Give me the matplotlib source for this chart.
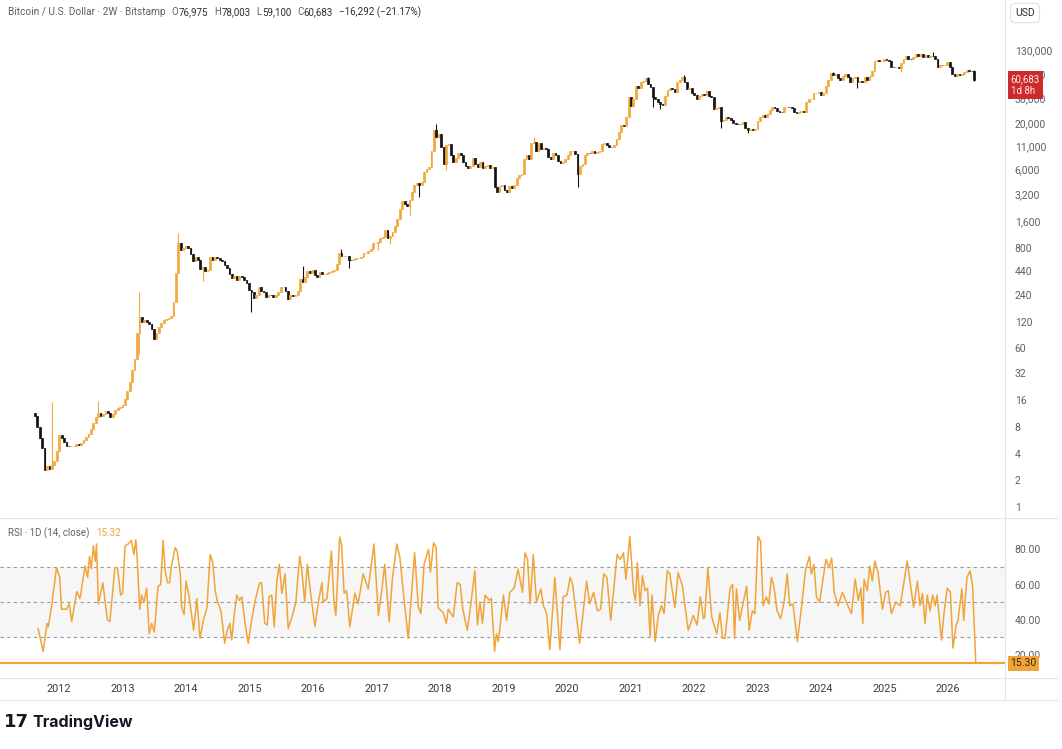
import numpy as np
import pandas as pd
import matplotlib
matplotlib.use("Agg")
import matplotlib.pyplot as plt
from matplotlib.lines import Line2D
from matplotlib.ticker import NullLocator

plt.rcParams['font.family'] = ['Roboto', 'DejaVu Sans']

# --- 2W closes (Bitstamp BTC/USD), one list per year ---
first_open = 11.5
closes_2011 = [10.6, 8.0, 5.9, 4.6, 2.6, 2.9, 2.7, 3.0, 3.3, 4.3]
closes_2012 = [6.4, 5.9, 5.4, 4.9, 4.8, 4.8, 4.9, 5.1, 5.0, 5.2, 5.7, 6.2, 6.7,
               7.6, 8.9, 10.3, 11.3, 10.6, 11.1, 12.0, 11.3, 10.3, 11.2, 12.3, 13.0, 13.4]
closes_2013 = [14.0, 16.5, 20, 25, 34, 46, 90, 135, 118, 125, 118, 112, 100,
               76, 90, 105, 115, 124, 128, 131, 137, 200, 420, 900, 760, 800]
closes_2014 = [850, 800, 690, 570, 630, 580, 460, 490, 440, 450, 630, 590, 640,
               620, 590, 570, 510, 475, 410, 370, 385, 350, 390, 380, 350, 320]
closes_2015 = [270, 255, 220, 240, 290, 265, 255, 225, 240, 235, 225, 235, 255,
               290, 290, 265, 215, 240, 230, 240, 265, 360, 330, 375, 445, 420]
closes_2016 = [450, 395, 375, 435, 410, 410, 420, 430, 445, 455, 530, 700, 650,
               650, 655, 590, 585, 605, 610, 610, 640, 700, 705, 730, 780, 900]
closes_2017 = [900, 920, 1020, 1050, 1270, 1040, 1100, 1190, 1400, 1700, 2200, 2650, 2450,
               2350, 2750, 3400, 4050, 4300, 4000, 4400, 5700, 6150, 6500, 9600, 16700, 13800]
closes_2018 = [15000, 10800, 7000, 11200, 11500, 8700, 7400, 8100, 9200, 8700, 7400, 6600, 6200,
               6600, 8200, 6900, 6500, 7300, 6300, 6600, 6700, 6300, 6350, 3800, 3400, 3900]
closes_2019 = [4000, 3550, 3400, 3950, 3750, 4000, 4900, 5200, 5300, 7900, 8700, 8000, 11800,
               12300, 9800, 11900, 10100, 10600, 10200, 8300, 8000, 9200, 8800, 7500, 7200, 7300]
closes_2020 = [8000, 8700, 9600, 9600, 8900, 5300, 6600, 6900, 8800, 9300, 9200, 9800, 9300,
               9400, 9600, 11700, 11800, 11400, 10900, 10800, 11400, 13300, 15700, 19200, 18500, 23500]
closes_2021 = [39000, 31000, 37500, 52000, 49000, 58000, 59000, 63000, 54000, 50000, 39000, 37000, 34000,
               33000, 32000, 40000, 47000, 49000, 48000, 44000, 57000, 61000, 65000, 57000, 48500, 49000]
closes_2022 = [43000, 40700, 37000, 40500, 42500, 41000, 45500, 40000, 39500, 29000, 29200, 30000, 21000,
               21600, 23200, 22600, 21400, 20000, 19700, 19500, 19400, 20300, 17600, 16600, 17200, 16800]
closes_2023 = [16900, 21000, 23600, 24500, 23500, 25000, 28000, 30400, 29300, 26900, 26500, 26400, 30000,
               30300, 29900, 29200, 26600, 25900, 26600, 27000, 26800, 34200, 36700, 37300, 43300, 43800]
closes_2024 = [44200, 41300, 43000, 51800, 61200, 73000, 69500, 70000, 64500, 61200, 67900, 71000, 65000,
               57000, 64000, 65000, 57500, 59400, 58000, 65200, 60300, 67800, 75900, 98000, 101000, 97500]
closes_2025 = [98000, 104000, 102000, 97500, 84000, 83500, 84300, 83400, 94700, 103000, 111000, 104000, 103000,
               108000, 118000, 113000, 117000, 108000, 116000, 109000, 113000, 111000, 103000, 85000, 89000, 88000]
closes_2026 = [88000, 95000, 84000, 70000, 67000, 70000, 68000, 71000, 75000, 79000, 77000, 76975, 60683]

# long wicks that stand out on the chart (date, high, low)
wick_dates = ["2011-11-21", "2012-08-13", "2013-04-08", "2013-04-15", "2013-11-30", "2014-04-10",
              "2015-01-14", "2015-11-04", "2016-06-16", "2016-08-02", "2017-01-11", "2017-03-24",
              "2017-07-16", "2017-09-15", "2017-12-17", "2018-02-06", "2019-06-26", "2020-03-13",
              "2021-04-14", "2021-05-19", "2021-06-22", "2021-11-10", "2022-06-18", "2022-11-09",
              "2024-03-14", "2024-08-05", "2025-04-07", "2025-10-06", "2026-06-08"]
wick_highs = [15.0, 15.6, 257, np.nan, 1160, np.nan,
              np.nan, 500, 780, np.nan, np.nan, np.nan,
              np.nan, np.nan, 19700, np.nan, 13800, np.nan,
              64900, np.nan, np.nan, 69000, np.nan, np.nan,
              73800, np.nan, np.nan, 126000, 78003]
wick_lows = [np.nan, np.nan, np.nan, 52, np.nan, 340,
             152, np.nan, np.nan, 480, 750, 890,
             1850, 2970, np.nan, 5900, np.nan, 3850,
             np.nan, 30000, 28800, np.nan, 17600, 15500,
             np.nan, 49000, 74500, np.nan, 59100]

# RSI 1D(14) sampled on the 2W bars: (decimal year, value) turning points
rsi_2011_2016 = [
    (2011.67, 35), (2011.75, 22), (2011.81, 38), (2011.83, 36), (2011.88, 47), (2011.96, 69.6),
    (2012.01, 64), (2012.04, 46), (2012.12, 46), (2012.16, 49), (2012.20, 39), (2012.28, 56),
    (2012.33, 52), (2012.41, 70.5), (2012.45, 64), (2012.48, 76), (2012.51, 69), (2012.54, 82),
    (2012.57, 73), (2012.59, 83), (2012.62, 49), (2012.69, 61), (2012.76, 40), (2012.80, 39),
    (2012.88, 69.6), (2012.92, 69.6), (2012.97, 54), (2013.00, 55), (2013.04, 82), (2013.09, 83),
    (2013.14, 85), (2013.18, 77), (2013.21, 85.5), (2013.23, 75), (2013.27, 46), (2013.30, 54),
    (2013.34, 50), (2013.38, 58), (2013.42, 32), (2013.46, 38), (2013.50, 33), (2013.56, 59),
    (2013.60, 60), (2013.64, 85), (2013.67, 68), (2013.71, 61), (2013.74, 61), (2013.77, 70.5),
    (2013.83, 81), (2013.86, 79), (2013.91, 66), (2013.93, 47), (2013.97, 43), (2014.00, 62),
    (2014.05, 53), (2014.12, 34), (2014.17, 52), (2014.22, 29.5), (2014.27, 39), (2014.33, 47),
    (2014.38, 77), (2014.42, 73), (2014.46, 56.5), (2014.49, 51), (2014.55, 45), (2014.61, 26.6),
    (2014.65, 34), (2014.69, 38), (2014.72, 28.5), (2014.76, 43), (2014.80, 54), (2014.84, 51),
    (2014.88, 53), (2014.93, 38), (2014.98, 26.6), (2015.03, 39), (2015.09, 51), (2015.16, 61),
    (2015.19, 61), (2015.24, 38), (2015.28, 37), (2015.31, 53), (2015.35, 54), (2015.39, 36),
    (2015.43, 62), (2015.47, 71.5), (2015.51, 55), (2015.56, 66), (2015.61, 35), (2015.68, 43),
    (2015.73, 50), (2015.79, 76), (2015.82, 69.6), (2015.87, 50), (2015.91, 71.5), (2015.96, 56),
    (2016.03, 36), (2016.08, 49), (2016.14, 61), (2016.16, 50), (2016.22, 52), (2016.29, 79),
    (2016.33, 50), (2016.36, 42.5), (2016.42, 87), (2016.45, 82.7), (2016.49, 55), (2016.53, 56.5),
    (2016.58, 36)]
rsi_2016_2021 = [
    (2016.66, 55), (2016.71, 49), (2016.79, 66), (2016.87, 57.5), (2016.96, 83), (2017.03, 42.5),
    (2017.08, 55.6), (2017.13, 71.5), (2017.20, 39), (2017.25, 63), (2017.32, 83), (2017.37, 75),
    (2017.43, 53), (2017.50, 29.5), (2017.60, 78), (2017.66, 47), (2017.70, 43.5), (2017.75, 71.5),
    (2017.82, 80), (2017.85, 67), (2017.90, 83.7), (2017.94, 81), (2017.97, 47), (2018.05, 44),
    (2018.10, 38), (2018.13, 46), (2018.21, 41.6), (2018.27, 61), (2018.32, 60), (2018.36, 46),
    (2018.43, 34), (2018.48, 47), (2018.55, 67.8), (2018.59, 37), (2018.63, 50), (2018.67, 38),
    (2018.71, 54), (2018.78, 51), (2018.81, 52), (2018.86, 22), (2018.89, 32), (2018.92, 27.6),
    (2019.00, 54), (2019.05, 39.7), (2019.10, 55.6), (2019.17, 58), (2019.23, 68.7), (2019.30, 55.6),
    (2019.34, 78), (2019.38, 74.3), (2019.42, 49), (2019.47, 77), (2019.52, 50), (2019.59, 57.5),
    (2019.63, 48), (2019.68, 43.5), (2019.73, 23), (2019.81, 64), (2019.89, 23), (2019.94, 53),
    (2020.00, 54), (2020.05, 64), (2020.09, 60), (2020.20, 26.6), (2020.31, 62), (2020.36, 49),
    (2020.42, 55.6), (2020.48, 45), (2020.53, 46), (2020.58, 66), (2020.63, 64), (2020.69, 39.7),
    (2020.79, 77), (2020.84, 74.3), (2020.89, 78), (2020.93, 63), (2020.99, 87.4), (2021.05, 55.6),
    (2021.08, 51), (2021.11, 72.4), (2021.15, 48), (2021.19, 65), (2021.23, 56.5), (2021.27, 58),
    (2021.31, 30.4), (2021.34, 54), (2021.39, 27.6), (2021.44, 42.5), (2021.49, 48), (2021.53, 43.5),
    (2021.58, 67.8)]
rsi_2021_2026 = [
    (2021.62, 66), (2021.70, 47), (2021.75, 66.8), (2021.82, 59), (2021.91, 34), (2021.99, 42.5),
    (2022.05, 37), (2022.10, 53), (2022.15, 40.6), (2022.17, 41.6), (2022.22, 69.6), (2022.28, 41.6),
    (2022.36, 32), (2022.41, 44), (2022.45, 29.5), (2022.49, 29.5), (2022.57, 58), (2022.61, 60),
    (2022.64, 29.5), (2022.67, 57.5), (2022.72, 39.7), (2022.83, 59), (2022.87, 34), (2022.92, 45),
    (2022.96, 43.5), (2023.01, 87.4), (2023.05, 84.6), (2023.09, 48), (2023.14, 53), (2023.18, 49),
    (2023.22, 64), (2023.26, 59), (2023.31, 45), (2023.365, 40.6), (2023.42, 50), (2023.47, 66),
    (2023.51, 48), (2023.56, 49), (2023.63, 27.6), (2023.70, 49), (2023.76, 68.7), (2023.82, 76),
    (2023.85, 66), (2023.89, 71.5), (2023.93, 53), (2023.98, 50), (2024.08, 74.3), (2024.13, 69.6),
    (2024.17, 75), (2024.21, 55.6), (2024.27, 48), (2024.34, 55.6), (2024.40, 50), (2024.48, 43.5),
    (2024.54, 63), (2024.59, 51), (2024.63, 58), (2024.66, 38), (2024.68, 63), (2024.73, 56.5),
    (2024.77, 70.5), (2024.81, 62), (2024.85, 73.4), (2024.90, 66.8), (2024.97, 46), (2025.02, 55.6),
    (2025.06, 56.5), (2025.11, 43.5), (2025.18, 50), (2025.25, 48), (2025.36, 73.4), (2025.46, 47),
    (2025.52, 62), (2025.56, 48), (2025.60, 55), (2025.64, 38), (2025.675, 54), (2025.72, 45),
    (2025.76, 54), (2025.80, 48), (2025.83, 54), (2025.90, 28.5), (2025.94, 44), (2025.99, 58),
    (2026.04, 55.6), (2026.08, 24), (2026.13, 37), (2026.16, 39.7), (2026.22, 57.5), (2026.25, 39.7),
    (2026.30, 64), (2026.35, 67.8), (2026.39, 59), (2026.44, 15.3)]
rsi_last = 15.30
rsi_header = 15.32

header_title = "Bitcoin / U.S. Dollar · 2W · Bitstamp"
ohlc_letters = ["O", "H", "L", "C"]
ohlc_values = ["76,975", "78,003", "59,100", "60,683"]
change_text = "\u221216,292 (\u221221.17%)"

price_ticks = [1, 2, 4, 8, 16, 32, 60, 120, 240, 440, 800, 1600, 3200, 6000,
               11000, 20000, 38000, 70000, 130000]
rsi_ticks = [20, 40, 60, 80]
years = list(range(2012, 2027))

# colours
UP = '#F2A93B'
DOWN = '#131313'
RSI_C = '#F0A43A'
GREY_TXT = '#5d606b'
DARK_TXT = '#2a2e39'
SEP = '#e4e4e4'

W, H = 1062, 749


def fx(px):
    return px / W


def fy(py):
    return 1 - py / H


def to_year(d):
    d = pd.DatetimeIndex(d)
    return np.asarray(d.year + (d.dayofyear - 1) / 365.25, dtype=float)


# --- build candles ---
closes = np.array(closes_2011 + closes_2012 + closes_2013 + closes_2014 + closes_2015 +
                  closes_2016 + closes_2017 + closes_2018 + closes_2019 + closes_2020 +
                  closes_2021 + closes_2022 + closes_2023 + closes_2024 + closes_2025 +
                  closes_2026, dtype=float)
dates = pd.date_range("2011-08-15", periods=len(closes), freq="14D")
t = to_year(dates)
opens = np.r_[first_open, closes[:-1]]
highs = np.maximum(opens, closes)
lows = np.minimum(opens, closes)
wt = to_year(pd.to_datetime(wick_dates))
for d, hi, lo in zip(wt, wick_highs, wick_lows):
    i = max(np.searchsorted(t, d, side='right') - 1, 0)
    if not np.isnan(hi):
        highs[i] = max(highs[i], hi)
    if not np.isnan(lo):
        lows[i] = min(lows[i], lo)
up = closes >= opens
cols = np.where(up, UP, DOWN)

rsi = np.array(rsi_2011_2016 + rsi_2016_2021 + rsi_2021_2026)

fig = plt.figure(figsize=(W / 100, H / 100), dpi=100)
fig.patch.set_facecolor('white')

ax = fig.add_axes([0, fy(517), fx(1005), 517 / H])
ax_rsi = fig.add_axes([0, fy(677), fx(1005), (677 - 519) / H])

x0, x1 = 2011.07, 2026.90

# price pane
ax.vlines(t, lows, highs, colors=cols, lw=0.8, zorder=2)
ax.bar(t, np.abs(closes - opens), bottom=np.minimum(opens, closes),
       width=0.028, color=cols, edgecolor=cols, linewidth=0.5, zorder=3)
ax.set_yscale('log')
ax.set_ylim(0.78, 475000)
ax.set_xlim(x0, x1)
ax.set_xticks([])
ax.yaxis.tick_right()
ax.yaxis.set_minor_locator(NullLocator())
ax.set_yticks(price_ticks)
ax.set_yticklabels([f"{v:,}" for v in price_ticks])
ax.tick_params(axis='y', length=0, pad=7, labelsize=7.5, labelcolor=GREY_TXT)
for s in ax.spines.values():
    s.set_visible(False)

last_close = closes[-1]
ax.annotate(f"{last_close:,.0f}\n1d 8h", xy=(1, last_close),
            xycoords=('axes fraction', 'data'), xytext=(4, 4), textcoords='offset points',
            ha='left', va='top', fontsize=7, color='#fde8e8', linespacing=1.25,
            bbox=dict(boxstyle='square,pad=0.3', fc='#CC2B2B', ec='none'),
            annotation_clip=False, zorder=10)

# RSI pane
ax_rsi.axhspan(30, 70, color='#f6f6f6', lw=0, zorder=0)
for lvl in (70, 50, 30):
    ax_rsi.axhline(lvl, color='#9a9a9a', lw=0.8, dashes=(3, 3), zorder=1)
ax_rsi.plot(rsi[:, 0], rsi[:, 1], color=RSI_C, lw=1.1, zorder=3)
ax_rsi.axhline(rsi_last, color=RSI_C, lw=1.6, zorder=2)
ax_rsi.set_xlim(x0, x1)
ax_rsi.set_ylim(7.5, 97.2)
ax_rsi.yaxis.tick_right()
ax_rsi.set_yticks(rsi_ticks)
ax_rsi.set_yticklabels([f"{v:.2f}" for v in rsi_ticks])
ax_rsi.set_xticks(years)
ax_rsi.set_xticklabels([str(y) for y in years])
ax_rsi.tick_params(axis='y', length=0, pad=7, labelsize=7.5, labelcolor=GREY_TXT)
ax_rsi.tick_params(axis='x', length=0, pad=5, labelsize=7.8, labelcolor='#3c3c3c')
for s in ax_rsi.spines.values():
    s.set_visible(False)
ax_rsi.annotate(f"{rsi_last:.2f}", xy=(1, rsi_last), xycoords=('axes fraction', 'data'),
                xytext=(4, 0), textcoords='offset points', ha='left', va='center',
                fontsize=7.5, color='#3b2a05',
                bbox=dict(boxstyle='square,pad=0.25', fc='#F0A43A', ec='none'),
                annotation_clip=False, zorder=10)

# separators
for (xa, ya, xb, yb) in [(0, 517.5, 1058, 517.5), (0, 677.5, 1058, 677.5),
                         (0, 700, 1058, 700), (1005, 0, 1005, 700)]:
    fig.add_artist(Line2D([fx(xa), fx(xb)], [fy(ya), fy(yb)], transform=fig.transFigure,
                          color=SEP, lw=0.8))

# header: title, then O/H/L/C letter + value chained one after another
anchor = fig.text(fx(8), fy(12), header_title, fontsize=7.3, color=GREY_TXT, va='center')
pieces = []
for letter, val in zip(ohlc_letters, ohlc_values):
    pieces.append((letter, GREY_TXT, 4.5))
    pieces.append((val, DARK_TXT, 0))
pieces.append((change_text, DARK_TXT, 4.5))
for text, colr, gap in pieces:
    anchor = ax.annotate(text, xy=(1, 0.5), xycoords=anchor,
                         xytext=(gap, 0), textcoords='offset points',
                         ha='left', va='center', fontsize=7, color=colr,
                         annotation_clip=False)

fig.text(fx(1025), fy(13), "USD", fontsize=7.5, color=DARK_TXT, va='center', ha='center',
         bbox=dict(boxstyle='round,pad=0.45', fc='white', ec='#e0e0e0', lw=0.8))

# RSI pane title
rsi_lbl = ax_rsi.text(0.008, 0.91, "RSI · 1D (14, close)", transform=ax_rsi.transAxes,
                      fontsize=7, color=GREY_TXT, va='center', zorder=5)
ax_rsi.annotate(f"{rsi_header:.2f}", xy=(1, 0.5), xycoords=rsi_lbl, xytext=(5, 0),
                textcoords='offset points', ha='left', va='center', fontsize=7, color=RSI_C,
                annotation_clip=False, zorder=5)

# footer logo
fig.text(fx(4), fy(722), "17", fontsize=13, fontweight='heavy', color='#131722', va='center',
         family=['DejaVu Sans'])
fig.text(fx(32), fy(722), "TradingView", fontsize=11.5, fontweight='bold', color='#131722',
         va='center', family=['Inter', 'DejaVu Sans'])

fig.savefig("out.png", dpi=100, facecolor='white')
